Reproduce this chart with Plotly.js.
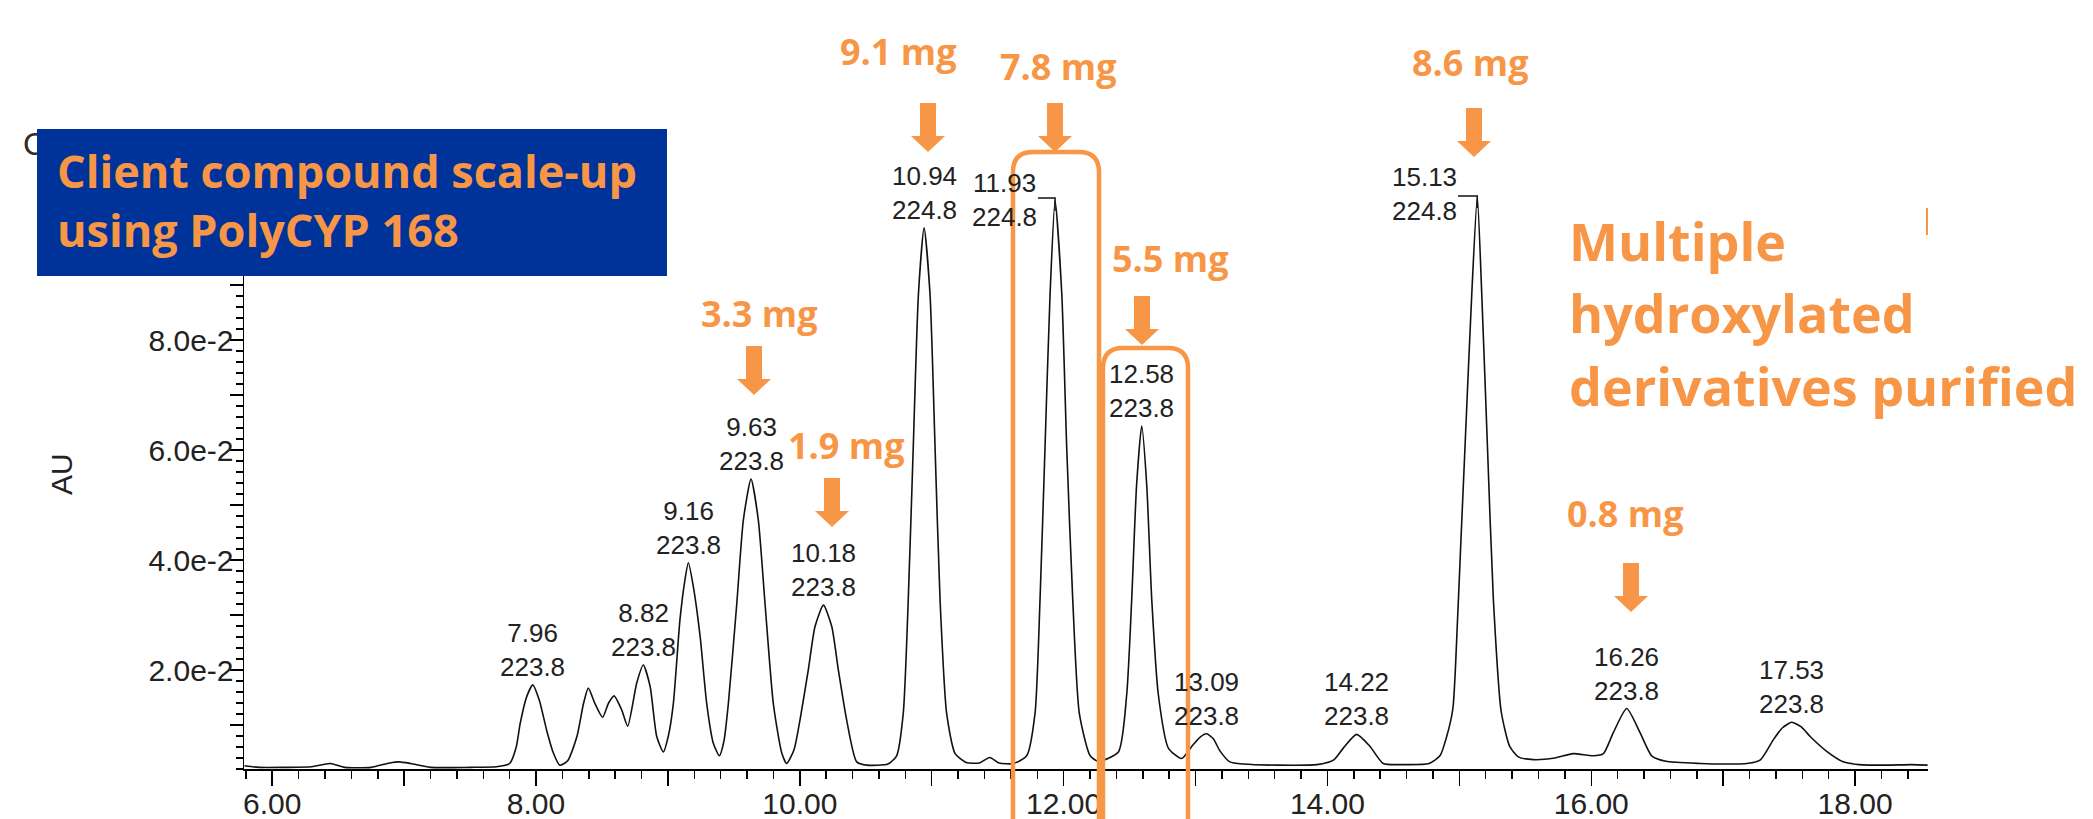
<!DOCTYPE html>
<html>
<head>
<meta charset="utf-8">
<script src="https://cdn.plot.ly/plotly-3.0.1.min.js"></script>
<style>
html,body{margin:0;padding:0;background:#ffffff;}
#chart{width:2093px;height:819px;}
</style>
</head>
<body>
<div id="chart"></div>
<script>
// ---------------- data ----------------
const timeMin = [
5.79,5.90,6.10,6.30,6.44,6.55,6.75,6.89,6.96,7.05,7.20,7.50,7.70,7.80,7.85,7.88,7.93,7.975,8.025,8.08,8.13,8.18,
8.24,8.31,8.36,8.396,8.447,8.505,8.55,8.592,8.65,8.695,8.763,8.813,8.865,8.915,8.965,
9.003,9.041,9.091,9.129,9.155,9.193,9.244,9.294,9.344,9.39,
9.424,9.458,9.522,9.572,9.63,9.685,9.736,9.799,9.863,9.90,
9.956,10.001,10.064,10.115,10.179,10.242,10.292,10.355,10.431,10.51,10.668,
10.734,10.784,10.822,10.860,10.899,10.942,10.987,11.025,11.063,11.113,11.177,11.26,11.36,11.44,11.51,11.62,
11.72,11.783,11.821,11.859,11.897,11.935,11.986,12.023,12.069,12.119,12.201,12.263,
12.415,12.478,12.516,12.553,12.592,12.63,12.668,12.718,12.794,12.894,
12.971,13.035,13.084,13.135,13.185,13.26,13.365,13.62,13.92,
14.045,14.12,14.221,14.323,14.423,14.57,14.77,
14.853,14.904,14.951,14.986,15.011,15.043,15.094,15.136,15.170,15.213,15.258,15.317,15.382,15.447,
15.562,15.723,15.863,16.014,16.092,16.167,16.269,16.37,16.458,16.566,16.83,17.03,17.18,
17.28,17.38,17.45,17.52,17.59,17.66,17.785,17.91,18.03,18.23,18.43,18.55
];
const absorbance = [
0.0026,0.0023,0.0023,0.0024,0.0030,0.0023,0.0023,0.0031,0.0033,0.0030,0.0023,0.0023,0.0024,0.0030,0.0060,0.0103,0.0152,0.0173,0.0145,0.0091,0.0050,0.0027,
0.0035,0.0079,0.0139,0.0167,0.0139,0.0114,0.0140,0.0153,0.0127,0.0098,0.0176,0.0209,0.0170,0.0079,0.0051,
0.0080,0.0139,0.0291,0.0364,0.0395,0.0351,0.0261,0.0139,0.0067,0.0044,
0.0070,0.0139,0.0321,0.0473,0.0547,0.0473,0.0321,0.0139,0.0049,0.0030,
0.0055,0.0109,0.0200,0.0279,0.0318,0.0279,0.0200,0.0109,0.0033,0.0027,0.0029,
0.0044,0.0121,0.0328,0.0606,0.0883,0.1004,0.0883,0.0606,0.0328,0.0121,0.0048,0.0032,0.0031,0.0041,0.0031,0.0030,
0.0044,0.0121,0.0328,0.0606,0.0883,0.1053,0.0883,0.0606,0.0328,0.0121,0.0044,0.0034,
0.0051,0.0155,0.0328,0.0536,0.0644,0.0536,0.0328,0.0155,0.0058,0.0039,
0.0061,0.0078,0.0084,0.0075,0.0053,0.0033,0.0029,0.0027,0.0028,
0.0036,0.0058,0.0083,0.0061,0.0030,0.0028,0.0030,
0.0044,0.0079,0.0130,0.0290,0.0430,0.0606,0.0883,0.1060,0.0883,0.0606,0.0328,0.0125,0.0061,0.0042,
0.0037,0.0040,0.0048,0.0044,0.0048,0.0086,0.0130,0.0086,0.0044,0.0034,0.0030,0.0029,0.0030,
0.0036,0.0073,0.0095,0.0105,0.0097,0.0079,0.0052,0.0033,0.0028,0.0027,0.0028,0.0027
];

// peak labels (retention time / wavelength) and apex locations
const peakRT         = ['7.96','8.82','9.16','9.63','10.18','10.94','11.93','12.58','13.09','14.22','15.13','16.26','17.53'];
const peakWavelength = ['223.8','223.8','223.8','223.8','223.8','224.8','224.8','223.8','223.8','223.8','224.8','223.8','223.8'];
const peakApexTime   = [7.975,8.813,9.155,9.63,10.179,10.942,11.935,12.592,13.084,14.221,15.136,16.269,17.52];
const peakApexAU     = [0.0173,0.0209,0.0395,0.0547,0.0318,0.1004,0.1053,0.0644,0.0084,0.0083,0.1060,0.0130,0.0105];

// label connector brackets (start time, apex time, level, lower end)
const bracketStart = [11.806, 14.99];
const bracketEnd   = [11.935, 15.136];
const bracketLevel = [0.1058, 0.1062];
const bracketLow   = [0.1035, 0.1040];

// axis ticks
const xTickVals = [6,7,8,9,10,11,12,13,14,15,16,17,18];
const xTickText = ['6.00','','8.00','','10.00','','12.00','','14.00','','16.00','','18.00'];
const yTickVals = [0.01,0.02,0.03,0.04,0.05,0.06,0.07,0.08,0.09,0.10,0.11];
const yTickText = ['','2.0e-2','','4.0e-2','','6.0e-2','','8.0e-2','','1.0e-1',''];

// purified amounts
const massLabels = ['9.1 mg','7.8 mg','3.3 mg','1.9 mg','5.5 mg','8.6 mg','0.8 mg'];

// ---------------- placement (pixels on the 2093x819 page) ----------------
const PL = 244, PR = 1928, PT = 164, PB = 769;
const px = v => (v - PL) / (PR - PL);
const py = v => (PB - v) / (PB - PT);

const massPlace  = [[898,51],[1058,66],[759,313],[846,445],[1170,258],[1470,63],[1625,513]];
const arrowPlace = [[928,152],[1055,152],[754,395],[832,527],[1142,345],[1474,157],[1631,612]];
const labelShift = {'11.93':[-51,-32], '15.13':[-53,-30]};

const ORANGE = '#F79646';
const DARK = '#222222';
const SANS = 'Liberation Sans, Arial, sans-serif';
const BOLD = 'Open Sans, Lato, sans-serif';

const trace = {
  x: timeMin, y: absorbance, type: 'scatter', mode: 'lines',
  line: {color: '#111111', width: 1.6, shape: 'spline', smoothing: 0.6},
  hoverinfo: 'skip'
};

const annotations = [];
// peak labels
for (let i = 0; i < peakRT.length; i++) {
  const s = labelShift[peakRT[i]] || [0, 2];
  annotations.push({
    xref: 'x', yref: 'y', x: peakApexTime[i], y: peakApexAU[i],
    xanchor: 'center', yanchor: 'bottom', xshift: s[0], yshift: s[1],
    text: peakRT[i] + '<br>' + peakWavelength[i], showarrow: false,
    font: {family: SANS, size: 26, color: DARK}, align: 'center', borderpad: 0
  });
}
// mass labels
for (let i = 0; i < massLabels.length; i++) {
  annotations.push({
    xref: 'paper', yref: 'paper', x: px(massPlace[i][0]), y: py(massPlace[i][1]),
    xanchor: 'center', yanchor: 'middle', text: massLabels[i], showarrow: false,
    font: {family: BOLD, size: 36, color: ORANGE, weight: 700}
  });
}
// right hand statement
const statement = ['Multiple', 'hydroxylated', 'derivatives purified'];
const statementY = [240, 312, 385];
for (let i = 0; i < statement.length; i++) {
  annotations.push({
    xref: 'paper', yref: 'paper', x: px(1567), y: py(statementY[i]),
    xanchor: 'left', yanchor: 'middle', text: statement[i], showarrow: false,
    font: {family: BOLD, size: 52, color: ORANGE, weight: 700}
  });
}
// axis title
annotations.push({
  xref: 'paper', yref: 'paper', x: px(61), y: py(474), xanchor: 'center', yanchor: 'middle',
  text: 'AU', textangle: -90, showarrow: false, font: {family: SANS, size: 30, color: DARK}
});
// partly hidden character behind the title box
annotations.push({
  xref: 'paper', yref: 'paper', x: px(21), y: py(144), xanchor: 'left', yanchor: 'middle',
  text: 'C', showarrow: false, font: {family: SANS, size: 32, color: '#3a2a1c'}
});
// blue title box
annotations.push({
  xref: 'paper', yref: 'paper', x: px(37), y: py(129), xanchor: 'left', yanchor: 'top',
  text: ' ', showarrow: false, width: 630, height: 147, bgcolor: '#00339A',
  borderwidth: 0, borderpad: 0
});
annotations.push({
  xref: 'paper', yref: 'paper', x: px(55), y: py(200), xanchor: 'left', yanchor: 'middle',
  text: 'Client compound scale-up<br>using PolyCYP 168', align: 'left', showarrow: false,
  font: {family: BOLD, size: 45, color: ORANGE, weight: 700}
});

const shapes = [];
// down arrows
const arrowPath = 'M0,0 L-17,16 L-8,16 L-8,49 L8,49 L8,16 L17,16 Z';
for (let i = 0; i < arrowPlace.length; i++) {
  shapes.push({
    type: 'path', xref: 'paper', yref: 'paper', xsizemode: 'pixel', ysizemode: 'pixel',
    xanchor: px(arrowPlace[i][0]), yanchor: py(arrowPlace[i][1]), path: arrowPath,
    fillcolor: ORANGE, line: {width: 0}, layer: 'above'
  });
}
// rounded fraction boxes (open at the bottom)
function boxPath(w, r, depth) {
  return 'M0,' + (-depth) + ' L0,' + (-r) + ' Q0,0 ' + r + ',0 L' + (w - r) + ',0 Q' + w + ',0 ' + w + ',' + (-r) + ' L' + w + ',' + (-depth);
}
const boxPlace = [[1013, 1099, 152], [1103, 1188, 348]];
boxPlace.forEach(b => {
  shapes.push({
    type: 'path', xref: 'paper', yref: 'paper', xsizemode: 'pixel', ysizemode: 'pixel',
    xanchor: px(b[0]), yanchor: py(b[2]), path: boxPath(b[1] - b[0], 20, 900),
    line: {color: ORANGE, width: 4.5}, layer: 'above'
  });
});
// small orange mark at the right
shapes.push({type: 'line', xref: 'paper', yref: 'paper', x0: px(1927), x1: px(1927), y0: py(208), y1: py(235),
  line: {color: ORANGE, width: 2}, layer: 'above'});
// label brackets
for (let i = 0; i < bracketStart.length; i++) {
  shapes.push({
    type: 'path', xref: 'x', yref: 'y',
    path: 'M' + bracketStart[i] + ',' + bracketLevel[i] + ' L' + bracketEnd[i] + ',' + bracketLevel[i] + ' L' + bracketEnd[i] + ',' + bracketLow[i],
    line: {color: '#111111', width: 1.5}, layer: 'above'
  });
}

const layout = {
  width: 2093, height: 819,
  margin: {l: PL, r: 2093 - PR, t: PT, b: 819 - PB, pad: 0},
  paper_bgcolor: '#ffffff', plot_bgcolor: '#ffffff',
  showlegend: false,
  xaxis: {
    range: [5.786, 18.553], tickmode: 'array', tickvals: xTickVals, ticktext: xTickText,
    ticks: 'outside', ticklen: 15, tickwidth: 1.5, tickcolor: '#000', ticklabelstandoff: -8,
    showline: true, linecolor: '#000', linewidth: 1.5, showgrid: false, zeroline: false,
    tickfont: {family: SANS, size: 30, color: DARK},
    minor: {tickmode: 'linear', tick0: 0, dtick: 0.2, ticks: 'outside', ticklen: 8, tickwidth: 1.5, tickcolor: '#000', showgrid: false},
    fixedrange: true
  },
  yaxis: {
    range: [0.002, 0.112], tickmode: 'array', tickvals: yTickVals, ticktext: yTickText,
    ticks: 'outside', ticklen: 13, tickwidth: 1.5, tickcolor: '#000', ticklabelstandoff: -10,
    showline: true, linecolor: '#000', linewidth: 1.5, showgrid: false, zeroline: false,
    tickfont: {family: SANS, size: 30, color: DARK},
    minor: {tickmode: 'linear', tick0: 0, dtick: 0.002, ticks: 'outside', ticklen: 7, tickwidth: 1.5, tickcolor: '#000', showgrid: false},
    fixedrange: true
  },
  annotations: annotations,
  shapes: shapes
};

Plotly.newPlot('chart', [trace], layout, {staticPlot: true, displayModeBar: false});
</script>
</body>
</html>
